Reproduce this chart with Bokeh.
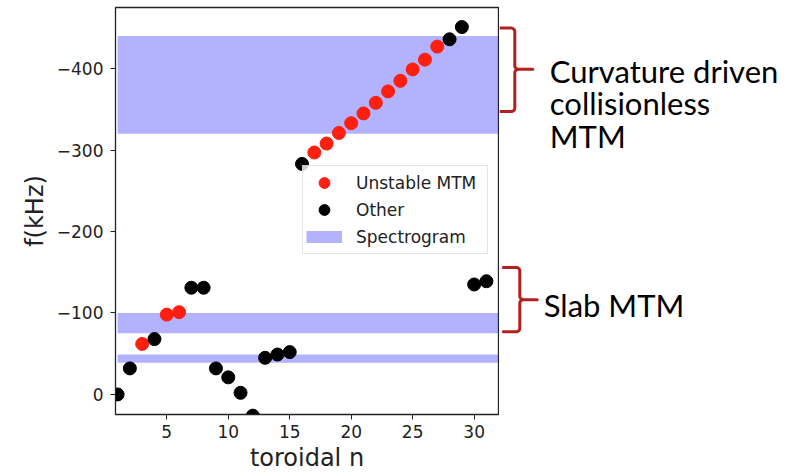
import numpy as np
from bokeh.plotting import figure
from bokeh.models import Range1d, FixedTicker, Legend, LegendItem
from bokeh.layouts import row
from bokeh.embed import file_html
from bokeh.resources import INLINE
from bokeh.core.properties import value

# ---------------- data ----------------
n_unstable = [3, 5, 6, 17, 18, 19, 20, 21, 22, 23, 24, 25, 26, 27]
f_unstable = [-62, -98, -101, -297, -308, -321, -333, -345, -358, -372, -385, -399, -411, -427]

n_other = [1, 2, 4, 7, 8, 9, 10, 11, 12, 13, 14, 15, 16, 28, 29, 30, 31]
f_other = [0, -32, -68, -131, -131, -32, -21, -2, 26, -45, -49, -52, -283, -436, -451, -135, -139]

band_low = [-440, -100, -49]
band_high = [-320, -75, -39]
band_start = [1, 1, 1]
band_end = [32, 32, 32]

x_ticks = [5, 10, 15, 20, 25, 30]
y_ticks = [0, -100, -200, -300, -400]
y_tick_labels = ["0", "\u2212100", "\u2212200", "\u2212300", "\u2212400"]

legend_labels = ["Unstable MTM", "Other", "Spectrogram"]

annot_lines = ["Curvature driven", "collisionless", "MTM", "Slab MTM"]

RED = "#ff1f0f"
BAND = "blue"
BRACE = "#b41f1f"
FONT = "DejaVu Sans"

# ---------------- main plot ----------------
p = figure(width=499, height=476,
           x_range=Range1d(0.83, 31.98), y_range=Range1d(24.6, -475),
           output_backend="svg", toolbar_location=None,
           min_border_left=115, min_border_right=1, min_border_top=7, min_border_bottom=62)
p.grid.visible = False
p.outline_line_color = "#222222"
p.outline_line_width = 1.3
p.background_fill_color = "white"
p.border_fill_color = "white"

p.quad(left=band_start, right=band_end, bottom=band_low, top=band_high,
       fill_color=BAND, fill_alpha=0.3, line_color=None)

r_u = p.scatter(n_unstable, f_unstable, size=13, color=RED)
r_o = p.scatter(n_other, f_other, size=13, color="black")
r_b = p.line([np.nan, np.nan], [np.nan, np.nan], line_color=BAND, line_alpha=0.3, line_width=12)

legend = Legend(items=[LegendItem(label=legend_labels[0], renderers=[r_u]),
                       LegendItem(label=legend_labels[1], renderers=[r_o]),
                       LegendItem(label=legend_labels[2], renderers=[r_b])],
                location=(187, 160))
legend.label_text_font = FONT
legend.label_text_font_size = "17px"
legend.label_text_color = "#222222"
legend.glyph_width = 36
legend.glyph_height = 27
legend.label_height = 20
legend.label_width = 128
legend.spacing = 0
legend.padding = 3
legend.label_standoff = 14
legend.border_line_color = "#cccccc"
legend.border_line_width = 1
legend.background_fill_alpha = 0.8
p.add_layout(legend)

p.xaxis.ticker = FixedTicker(ticks=x_ticks)
p.yaxis.ticker = FixedTicker(ticks=y_ticks)
p.yaxis.major_label_overrides = {t: lab for t, lab in zip(y_ticks, y_tick_labels)}
p.axis.minor_tick_line_color = None
p.axis.major_tick_in = 0
p.axis.major_tick_out = 5
p.axis.major_tick_line_color = "#222222"
p.axis.axis_line_color = "#222222"
p.axis.major_label_text_font = FONT
p.axis.major_label_text_font_size = "17px"
p.axis.major_label_text_color = "#222222"
p.xaxis.major_label_standoff = 5
p.yaxis.major_label_standoff = 7
p.axis.axis_label_text_font = FONT
p.axis.axis_label_text_font_size = "24px"
p.axis.axis_label_text_font_style = "normal"
p.axis.axis_label_text_color = "#222222"
p.xaxis.axis_label = "toroidal n"
p.yaxis.axis_label = "f(kHz)"
p.xaxis.axis_label_standoff = 3
p.yaxis.axis_label_standoff = 5

# ---------------- annotation panel (pixel units) ----------------
q = figure(width=291, height=476, x_range=Range1d(0, 291), y_range=Range1d(476, 0),
           output_backend="svg", toolbar_location=None, min_border=0,
           x_axis_location=None, y_axis_location=None)
q.grid.visible = False
q.outline_line_color = None
q.background_fill_color = "white"
q.border_fill_color = "white"


def brace(xl, xv, xt, yt, ym, yb, r=4.0):
    xs, ys = [xl], [yt]
    th = np.linspace(-np.pi / 2, 0, 8)
    xs += list(xv - r + r * np.cos(th)); ys += list(yt + r + r * np.sin(th))
    th = np.linspace(np.pi, np.pi / 2, 8)
    xs += list(xv + r + r * np.cos(th)); ys += list(ym - r + r * np.sin(th))
    xs += [xt, xv + r]; ys += [ym, ym]
    th = np.linspace(-np.pi / 2, -np.pi, 8)
    xs += list(xv + r + r * np.cos(th)); ys += list(ym + r + r * np.sin(th))
    th = np.linspace(0, np.pi / 2, 8)
    xs += list(xv - r + r * np.cos(th)); ys += list(yb - r + r * np.sin(th))
    xs += [xl]; ys += [yb]
    return xs, ys


bx1, by1 = brace(0, 15.3, 33.3, 24, 72.3, 121.7)
bx2, by2 = brace(2.7, 20.3, 37.7, 304, 341.7, 379.3)
q.multi_line([bx1, bx2], [by1, by2], line_color=BRACE, line_width=3, line_join="round")

q.text(x=[50.3, 50.3, 50.3, 44.3], y=[74, 111.7, 150, 348], text=annot_lines,
       text_font=value("Lato"), text_font_size="31px", text_baseline="alphabetic",
       text_align="left", text_color="black")

layout = row(p, q)
open("out.html", "w").write(file_html(layout, INLINE))
